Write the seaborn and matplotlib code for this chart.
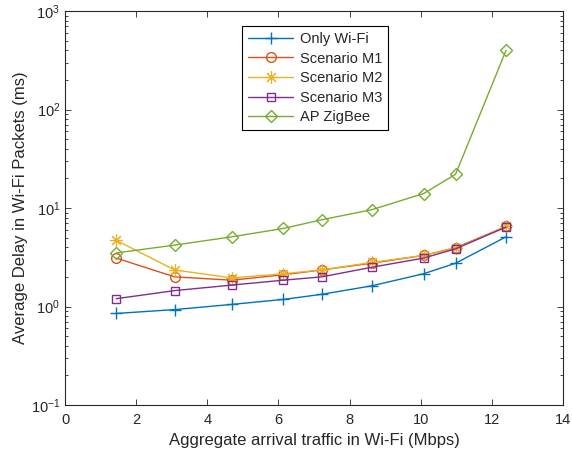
import numpy as np
import pandas as pd
import matplotlib
matplotlib.use("Agg")
import matplotlib.pyplot as plt
import seaborn as sns
from matplotlib.ticker import LogLocator, NullFormatter

x = [1.44, 3.08, 4.69, 6.14, 7.22, 8.62, 10.08, 10.98, 12.4]
only_wifi = [0.85, 0.93, 1.05, 1.18, 1.33, 1.62, 2.15, 2.75, 5.1]
scen_m1 = [3.1, 2.0, 1.85, 2.1, 2.35, 2.75, 3.3, 3.95, 6.5]
scen_m2 = [4.7, 2.35, 1.95, 2.15, 2.35, 2.8, 3.3, 3.9, 6.5]
scen_m3 = [1.2, 1.45, 1.65, 1.85, 2.0, 2.5, 3.1, 3.85, 6.4]
ap_zigbee = [3.5, 4.2, 5.1, 6.2, 7.6, 9.6, 14.0, 22.0, 400.0]

names = ["Only Wi-Fi", "Scenario M1", "Scenario M2", "Scenario M3", "AP ZigBee"]
series = [only_wifi, scen_m1, scen_m2, scen_m3, ap_zigbee]
colors = ["#0072BD", "#D95319", "#EDB120", "#7E2F8E", "#77AC30"]
markers = ["+", "o", (8, 2, 0), "s", "D"]
msizes = [9, 7, 9, 6, 6.5]
mews = [1.0, 1.0, 0.8, 1.0, 1.0]

df = pd.DataFrame({
    "x": np.tile(x, len(names)),
    "y": np.concatenate(series),
    "s": np.repeat(names, len(x)),
})

sns.set_style("ticks")
plt.rcParams["font.family"] = ["Liberation Sans", "DejaVu Sans"]
plt.rcParams["mathtext.fontset"] = "custom"
plt.rcParams["mathtext.rm"] = "Liberation Sans"
plt.rcParams["mathtext.it"] = "Liberation Sans:italic"

fig = plt.figure(figsize=(5.72, 4.58), dpi=100)
ax = fig.add_axes([65/572, 1-405/458, 498/572, 394/458])

sns.lineplot(data=df, x="x", y="y", hue="s", hue_order=names,
             palette=dict(zip(names, colors)), legend=False,
             linewidth=1.0, ax=ax)

for line, c, m, ms, mw in zip(ax.lines, colors, markers, msizes, mews):
    line.set_marker(m)
    line.set_markeredgecolor(c)
    line.set_markerfacecolor("none")
    line.set_markeredgewidth(mw)
    line.set_markersize(ms)

ax.set_yscale("log")
ax.set_xlim(0, 14)
ax.set_ylim(0.1, 1000)
ax.set_xticks(range(0, 15, 2))
ax.yaxis.set_major_locator(LogLocator(base=10, numticks=10))
ax.yaxis.set_minor_locator(LogLocator(base=10, subs=np.arange(2, 10), numticks=20))
ax.yaxis.set_minor_formatter(NullFormatter())

tc = "#262626"
for sp in ax.spines.values():
    sp.set_visible(True)
    sp.set_color(tc)
    sp.set_linewidth(0.8)
ax.tick_params(which="both", direction="in", top=True, right=True, colors=tc,
               labelsize=10.5, width=0.6)
ax.tick_params(which="major", length=4)
ax.tick_params(which="minor", length=2.2)
ax.tick_params(axis="x", pad=6)

ax.set_xlabel("Aggregate arrival traffic in Wi-Fi (Mbps)", fontsize=12, color=tc)
ax.set_ylabel("Average Delay in Wi-Fi Packets (ms)", fontsize=12, color=tc, labelpad=2)

leg = ax.legend(handles=list(ax.lines), labels=names, loc="upper center",
                bbox_to_anchor=(0.502, 0.98), fancybox=False, framealpha=1,
                edgecolor="black", fontsize=10.5, handlelength=3.1,
                borderpad=0.4, labelspacing=0.38, handletextpad=0.45)
leg.get_frame().set_linewidth(0.8)

fig.savefig("out.png", dpi=100)
